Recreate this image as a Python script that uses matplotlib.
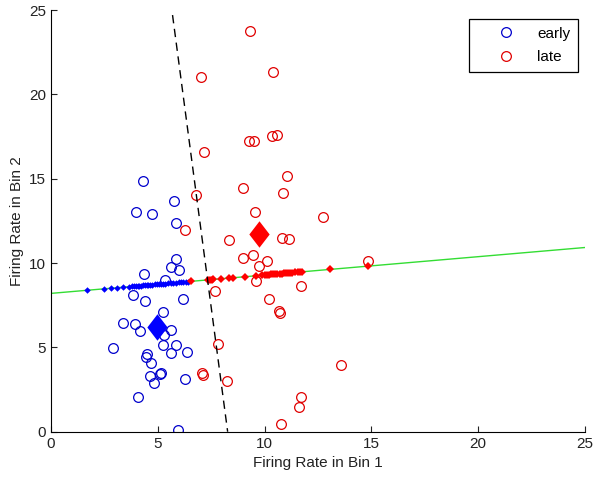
import numpy as np
import matplotlib
matplotlib.use('Agg')
import matplotlib.pyplot as plt

plt.rcParams['font.family'] = ['Liberation Sans', 'DejaVu Sans']

# early trials (blue circles)
early_x = [4.32, 5.75, 3.98, 4.73, 5.86, 5.83, 5.61, 6.00, 4.37, 5.36,
           3.85, 4.42, 6.16, 5.26, 3.35, 3.92, 4.15, 5.61, 5.31, 2.88,
           5.25, 5.87, 5.64, 6.35, 4.49, 4.43, 4.66, 4.63, 5.08, 5.15,
           4.84, 6.28, 4.09, 5.93]
early_y = [14.89, 13.66, 13.00, 12.93, 12.36, 10.23, 9.78, 9.61, 9.35, 9.02,
           8.11, 7.72, 7.84, 7.09, 6.43, 6.39, 5.99, 6.00, 5.75, 4.98,
           5.14, 5.16, 4.68, 4.74, 4.63, 4.43, 4.09, 3.30, 3.41, 3.46,
           2.91, 3.14, 2.07, 0.10]

# late trials (red circles)
late_x = [9.33, 7.02, 10.38, 9.26, 9.52, 10.36, 10.60, 7.15, 11.06, 9.00,
          10.84, 6.80, 9.55, 12.73, 6.29, 8.35, 10.83, 11.16, 8.99, 9.47,
          10.10, 9.74, 9.62, 11.71, 7.68, 10.21, 10.66, 10.72, 7.80, 13.58,
          7.05, 7.10, 8.25, 11.70, 11.61, 10.78, 14.83]
late_y = [23.73, 21.03, 21.32, 17.23, 17.23, 17.51, 17.61, 16.58, 15.13, 14.47,
          14.17, 14.04, 13.01, 12.71, 11.98, 11.35, 11.48, 11.40, 10.31, 10.45,
          10.10, 9.84, 8.95, 8.64, 8.33, 7.86, 7.14, 7.02, 5.20, 3.94,
          3.46, 3.36, 3.02, 2.06, 1.46, 0.44, 10.12]

# class means
early_mean = (4.95, 6.19)
late_mean = (9.74, 11.70)

# projection axis (green) and decision boundary (dashed)
axis_x = [0, 25]
axis_y = [8.20, 10.92]
bound_x = [5.69, 8.27]
bound_y = [24.70, 0.00]

# positions of the projected points along the axis
early_proj = [1.67, 2.46, 2.83, 3.10, 3.38, 3.63, 3.78, 3.88, 3.97, 4.05,
              4.13, 4.22, 4.30, 4.40, 4.48, 4.55, 4.65, 4.75, 4.85, 4.95,
              5.05, 5.15, 5.25, 5.35, 5.48, 5.60, 5.72, 5.85, 5.97, 6.08,
              6.20, 6.33, 6.43]
late_proj = [6.55, 7.35, 7.45, 7.52, 7.60, 7.97, 8.35, 8.54, 9.08, 9.58,
             9.90, 10.00, 10.10, 10.20, 10.30, 10.40, 10.50, 10.60, 10.70, 10.80,
             10.90, 11.00, 11.10, 11.20, 11.30, 11.42, 11.55, 11.68, 11.75, 13.07,
             14.85]

fig = plt.figure(figsize=(6.01, 4.83), dpi=100)
ax = fig.add_axes([51 / 601, 1 - 431.7 / 483, 534 / 601, 421.7 / 483])

# data points
ax.plot(early_x, early_y, 'o', mfc='none', mec='#0000cc', ms=7, mew=0.9, label='early')
ax.plot(late_x, late_y, 'o', mfc='none', mec='#e00000', ms=7, mew=0.9, label='late')

# projection line and projected points
ax.plot(axis_x, axis_y, color='#33dd33', lw=1)
ax.plot(early_proj, np.interp(early_proj, axis_x, axis_y), 'D', color='#0000ff', ms=3.3, mew=0)
ax.plot(late_proj, np.interp(late_proj, axis_x, axis_y), 'D', color='#ff0000', ms=3.8, mew=0)

# decision boundary
ax.plot(bound_x, bound_y, 'k--', lw=1, dashes=(6, 4))

# class means as big diamonds
diamond = [(-0.77, 0), (0, 1), (0.77, 0), (0, -1), (-0.77, 0)]
ax.plot(*early_mean, marker=diamond, color='#0000ff', ms=19, mew=0)
ax.plot(*late_mean, marker=diamond, color='#ff0000', ms=19, mew=0)

ax.set_xlim(0, 25)
ax.set_ylim(0, 25)
ax.set_xticks([0, 5, 10, 15, 20, 25])
ax.set_yticks([0, 5, 10, 15, 20, 25])
ax.spines['top'].set_visible(False)
ax.spines['right'].set_visible(False)
ax.tick_params(direction='in', length=4, labelsize=11, colors='#222222')
ax.set_xlabel('Firing Rate in Bin 1', fontsize=11, color='#222222')
ax.set_ylabel('Firing Rate in Bin 2', fontsize=11, color='#222222')

leg = ax.legend(loc='upper right', bbox_to_anchor=(578 / 601, 1 - 19 / 483),
                bbox_transform=fig.transFigure, borderaxespad=0, fancybox=False,
                edgecolor='k', framealpha=1, fontsize=11, handlelength=3.8,
                handletextpad=0.15, borderpad=0.5, labelspacing=0.62)
leg.get_frame().set_linewidth(0.9)

plt.savefig('out.png', dpi=100)
